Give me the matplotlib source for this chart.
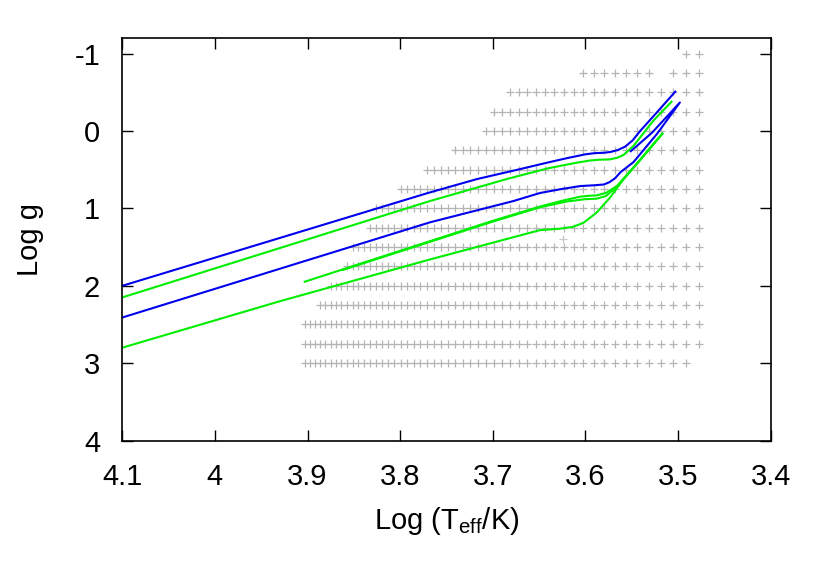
import numpy as np
import matplotlib
matplotlib.use('Agg')
import matplotlib.pyplot as plt

plt.rcParams['font.family'] = ['Liberation Sans', 'DejaVu Sans']
plt.rcParams['mathtext.fontset'] = 'custom'
plt.rcParams['mathtext.rm'] = 'Liberation Sans'
plt.rcParams['mathtext.it'] = 'Liberation Sans'
plt.rcParams['axes.unicode_minus'] = False

# model atmosphere grid: one row per log g, Teff range in K (100 K step)
grid_logg = [-1.0, -0.75, -0.75, -0.5, -0.25, 0.0, 0.25, 0.5, 0.75, 1.0,
             1.25, 1.5, 1.75, 2.0, 2.25, 2.5, 2.75, 3.0]
grid_tmin = [3000, 3000, 3400, 3000, 3000, 3000, 3000, 3000, 3000, 3000,
             3000, 3000, 3000, 3000, 3000, 3000, 3000, 3100]
grid_tmax = [3100, 3200, 4000, 4800, 5000, 5100, 5500, 5900, 6300, 6700,
             6800, 7100, 7200, 7500, 7700, 8000, 8000, 8000]
extra_pt = (3.624, 1.39)

# tracks (log Teff, log g)
b1_logt = [4.10, 3.77, 3.717, 3.67, 3.642, 3.62, 3.60, 3.59, 3.58, 3.573, 3.565,
           3.557, 3.549, 3.541, 3.523, 3.503]
b1_logg = [2.00, 0.80, 0.62, 0.49, 0.41, 0.35, 0.30, 0.285, 0.28, 0.27, 0.245,
           0.20, 0.12, 0.0, -0.24, -0.51]

g1_logt = [4.10, 3.768, 3.685, 3.64, 3.61, 3.595, 3.585, 3.5735, 3.566, 3.559,
           3.548, 3.527, 3.507]
g1_logg = [2.15, 0.905, 0.62, 0.48, 0.41, 0.38, 0.37, 0.366, 0.345, 0.31,
           0.19, -0.13, -0.38]

b2_logt = [4.10, 3.768, 3.678, 3.649, 3.624, 3.605, 3.59, 3.58, 3.574, 3.568, 3.562,
           3.548, 3.523, 3.498, 3.528, 3.551]
b2_logg = [2.41, 1.18, 0.905, 0.80, 0.745, 0.71, 0.70, 0.69, 0.66, 0.61, 0.53,
           0.40, 0.04, -0.37, 0.02, 0.26]

g2_logt = [3.903, 3.70, 3.649, 3.625, 3.606, 3.595, 3.588, 3.578, 3.566, 3.545, 3.517]
g2_logg = [1.947, 1.16, 0.975, 0.90, 0.848, 0.835, 0.831, 0.80, 0.711, 0.43, 0.034]

g2b_logt = [3.862, 3.70, 3.649, 3.62, 3.600, 3.588, 3.578, 3.566, 3.545, 3.517]
g2b_logg = [1.795, 1.17, 0.985, 0.91, 0.88, 0.874, 0.84, 0.72, 0.43, 0.034]

g3_logt = [4.10, 3.93, 3.768, 3.649, 3.635, 3.6275, 3.613, 3.602, 3.588, 3.5735,
           3.559, 3.545, 3.517]
g3_logg = [2.80, 2.20, 1.66, 1.28, 1.268, 1.262, 1.236, 1.185, 1.055, 0.861,
           0.624, 0.43, 0.034]

xticks = [4.1, 4.0, 3.9, 3.8, 3.7, 3.6, 3.5, 3.4]
xticklabels = ['4.1', '4', '3.9', '3.8', '3.7', '3.6', '3.5', '3.4']
yticks = [-1, 0, 1, 2, 3, 4]
yticklabels = ['-1', '0', '1', '2', '3', '4']

fig = plt.figure(figsize=(8.3, 5.8), dpi=100)
ax = fig.add_axes([0.1473, 0.2405, 0.7812, 0.6935])

gx, gy = [], []
for lg, t0, t1 in zip(grid_logg, grid_tmin, grid_tmax):
    teff = np.arange(t0, t1 + 1, 100)
    gx.extend(np.log10(teff))
    gy.extend([lg] * len(teff))
ax.plot(gx, gy, '+', color='#b4b4b4', ms=6, mew=0.9, zorder=1)
ax.plot([extra_pt[0]], [extra_pt[1]], '+', color='#c8c8c8', ms=6, mew=0.9, zorder=1)

lw = 1.5
blue = '#0000ee'
green = '#00ee00'
for xs, ys, c in [(b1_logt, b1_logg, blue), (g1_logt, g1_logg, green),
                  (b2_logt, b2_logg, blue), (g2_logt, g2_logg, green),
                  (g2b_logt, g2b_logg, green), (g3_logt, g3_logg, green)]:
    ax.plot(xs, ys, color=c, lw=lw, solid_joinstyle='round', zorder=2)

ax.set_xlim(4.1, 3.4)
ax.set_ylim(4, -1.2)
ax.set_xticks(xticks)
ax.set_xticklabels(xticklabels)
ax.set_yticks(yticks)
ax.set_yticklabels(yticklabels)
ax.tick_params(direction='in', top=True, right=True, length=8, width=1.0,
               labelsize=21, color='black')
ax.tick_params(axis='x', pad=16)
ax.tick_params(axis='y', pad=16)
for s in ax.spines.values():
    s.set_linewidth(1.2)

ax.set_xlabel(r'Log (T$_{\mathrm{eff}}$/K)', fontsize=21, labelpad=10)
ax.set_ylabel('Log g', fontsize=21, labelpad=22)

fig.savefig('out.png', dpi=100)
